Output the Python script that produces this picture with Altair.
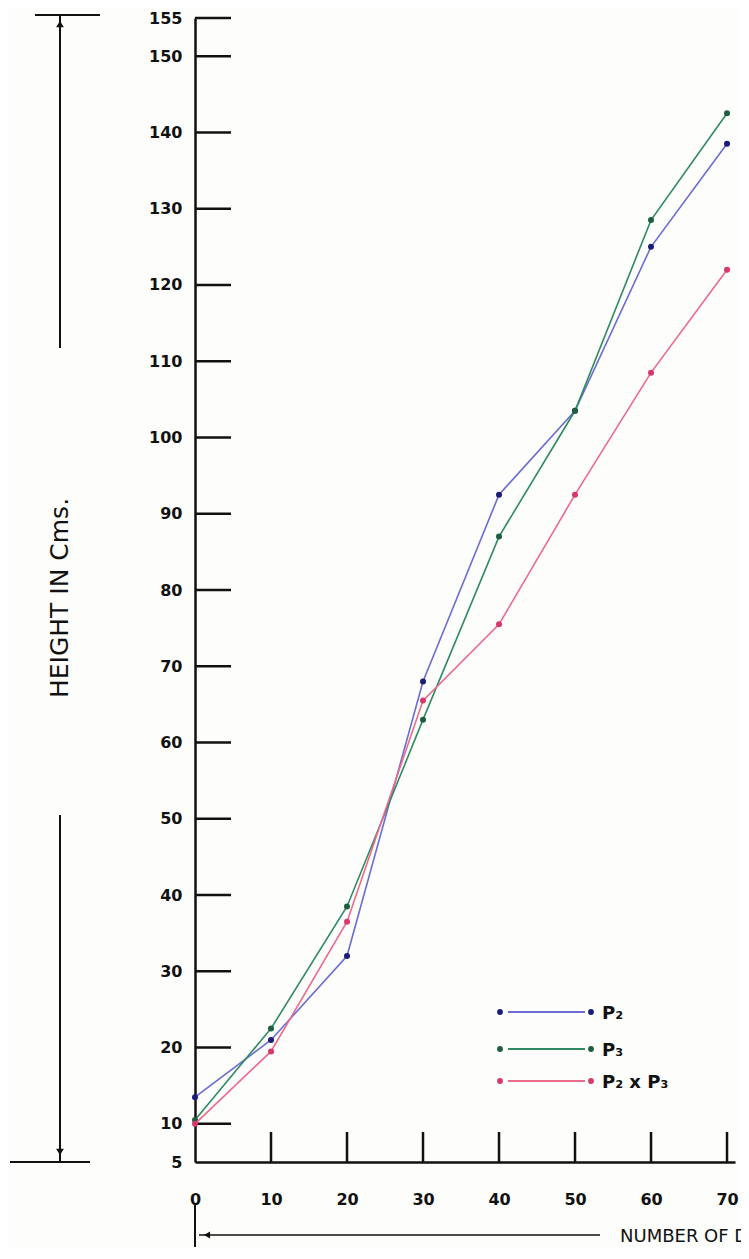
import altair as alt
import pandas as pd

# ---- data ----
days = [0, 10, 20, 30, 40, 50, 60, 70]
p2 = [13.5, 21, 32, 68, 92.5, 103.5, 125, 138.5]
p3 = [10.5, 22.5, 38.5, 63, 87, 103.5, 128.5, 142.5]
p2xp3 = [10, 19.5, 36.5, 65.5, 75.5, 92.5, 108.5, 122]

series_names = ["P₂", "P₃", "P₂ x P₃"]
line_colors = ["#6c6cd2", "#2f8a63", "#ec6a8c"]
point_colors = ["#1c1c78", "#1d5e3e", "#d6386a"]

y_tick_values = [5, 10, 20, 30, 40, 50, 60, 70, 80, 90, 100, 110, 120, 130, 140, 150, 155]
y_inner_ticks = [10, 20, 30, 40, 50, 60, 70, 80, 90, 100, 110, 120, 130, 140, 150, 155]
x_tick_values = [0, 10, 20, 30, 40, 50, 60, 70]
x_inner_ticks = [10, 20, 30, 40, 50, 60, 70]

y_title = "HEIGHT IN Cms."
x_title = "NUMBER OF DAYS"

W, H = 540, 1144
FONT = "DejaVu Sans"

rows = []
for name, vals in zip(series_names, [p2, p3, p2xp3]):
    for d, v in zip(days, vals):
        rows.append({"day": d, "height": v, "series": name})
df = pd.DataFrame(rows)

X = alt.X("day:Q",
          scale=alt.Scale(domain=[0, 71.05], nice=False, zero=False),
          axis=alt.Axis(values=x_tick_values, title=None, ticks=False, grid=False,
                        domainColor="#111", domainWidth=2.5,
                        labelFont=FONT, labelFontSize=16, labelFontWeight="bold",
                        labelColor="#111", labelPadding=29, labelFlush=False,
                        labelOverlap=False))
Y = alt.Y("height:Q",
          scale=alt.Scale(domain=[5, 155], nice=False, zero=False),
          axis=alt.Axis(values=y_tick_values, title=None, ticks=False, grid=False,
                        domainColor="#111", domainWidth=2.5,
                        labelFont=FONT, labelFontSize=16, labelFontWeight="bold",
                        labelColor="#111", labelPadding=13, labelFlush=False,
                        labelOverlap=False))

layers = []

# inner tick marks
ytk = pd.DataFrame({"height": y_inner_ticks})
layers.append(alt.Chart(ytk).mark_rule(color="#111", strokeWidth=2.5).encode(
    y=Y, x=alt.value(0), x2=alt.value(36)))
xtk = pd.DataFrame({"day": x_inner_ticks})
layers.append(alt.Chart(xtk).mark_rule(color="#111", strokeWidth=2.5).encode(
    x=X, y=alt.value(H), y2=alt.value(H - 30)))

# data series
for name, lc, pc in zip(series_names, line_colors, point_colors):
    base = alt.Chart(df).transform_filter(alt.datum.series == name)
    layers.append(base.mark_line(color=lc, strokeWidth=1.6).encode(x=X, y=Y))
    layers.append(base.mark_circle(color=pc, size=36, opacity=1).encode(x=X, y=Y))

one = pd.DataFrame({"a": [0]})

# legend (drawn by hand like the reference)
leg_y = [994, 1031, 1063]
for name, lc, pc, ly in zip(series_names, line_colors, point_colors, leg_y):
    layers.append(alt.Chart(one).mark_rule(color=lc, strokeWidth=2).encode(
        x=alt.value(313), x2=alt.value(390), y=alt.value(ly)))
    layers.append(alt.Chart(one).mark_circle(color=pc, size=34, opacity=1).encode(
        x=alt.value(305), y=alt.value(ly)))
    layers.append(alt.Chart(one).mark_circle(color=pc, size=34, opacity=1).encode(
        x=alt.value(396), y=alt.value(ly)))
    layers.append(alt.Chart(one).mark_text(align="left", baseline="middle", font=FONT,
                                           fontSize=18, fontWeight="bold", color="#111").encode(
        x=alt.value(407), y=alt.value(ly + 2), text=alt.value(name)))

# y title with arrows
AX = -135
layers.append(alt.Chart(one).mark_rule(color="#111", strokeWidth=2).encode(
    x=alt.value(AX), y=alt.value(-3), y2=alt.value(330)))
layers.append(alt.Chart(one).mark_rule(color="#111", strokeWidth=2).encode(
    x=alt.value(AX), y=alt.value(797), y2=alt.value(H)))
layers.append(alt.Chart(one).mark_rule(color="#111", strokeWidth=2).encode(
    x=alt.value(-160), x2=alt.value(-95), y=alt.value(-3)))
layers.append(alt.Chart(one).mark_rule(color="#111", strokeWidth=2).encode(
    x=alt.value(-185), x2=alt.value(-105), y=alt.value(H)))
layers.append(alt.Chart(one).mark_point(shape="triangle-up", filled=True, size=60,
                                        color="#111", opacity=1).encode(
    x=alt.value(AX), y=alt.value(6)))
layers.append(alt.Chart(one).mark_point(shape="triangle-down", filled=True, size=60,
                                        color="#111", opacity=1).encode(
    x=alt.value(AX), y=alt.value(H - 10)))
layers.append(alt.Chart(one).mark_text(angle=270, align="center", baseline="middle",
                                       font=FONT, fontSize=25, color="#111").encode(
    x=alt.value(AX), y=alt.value(580), text=alt.value(y_title)))

# x title with arrow
layers.append(alt.Chart(one).mark_rule(color="#111", strokeWidth=2).encode(
    x=alt.value(0), y=alt.value(1187), y2=alt.value(1247)))
layers.append(alt.Chart(one).mark_rule(color="#111", strokeWidth=1.6).encode(
    x=alt.value(4), x2=alt.value(405), y=alt.value(1217)))
layers.append(alt.Chart(one).mark_point(shape="triangle-left", filled=True, size=50,
                                        color="#111", opacity=1).encode(
    x=alt.value(12), y=alt.value(1217)))
layers.append(alt.Chart(one).mark_text(align="left", baseline="middle", font=FONT,
                                       fontSize=18, color="#111").encode(
    x=alt.value(425), y=alt.value(1219), text=alt.value(x_title)))

chart = alt.layer(*layers).properties(
    width=W, height=H,
    autosize=alt.AutoSizeParams(type="none"),
    padding={"left": 187, "top": 10, "right": 6, "bottom": 85},
    background="#fdfdfb",
).configure_view(stroke=None)

chart.save("out.html", embed_options={"renderer": "svg", "actions": False})
